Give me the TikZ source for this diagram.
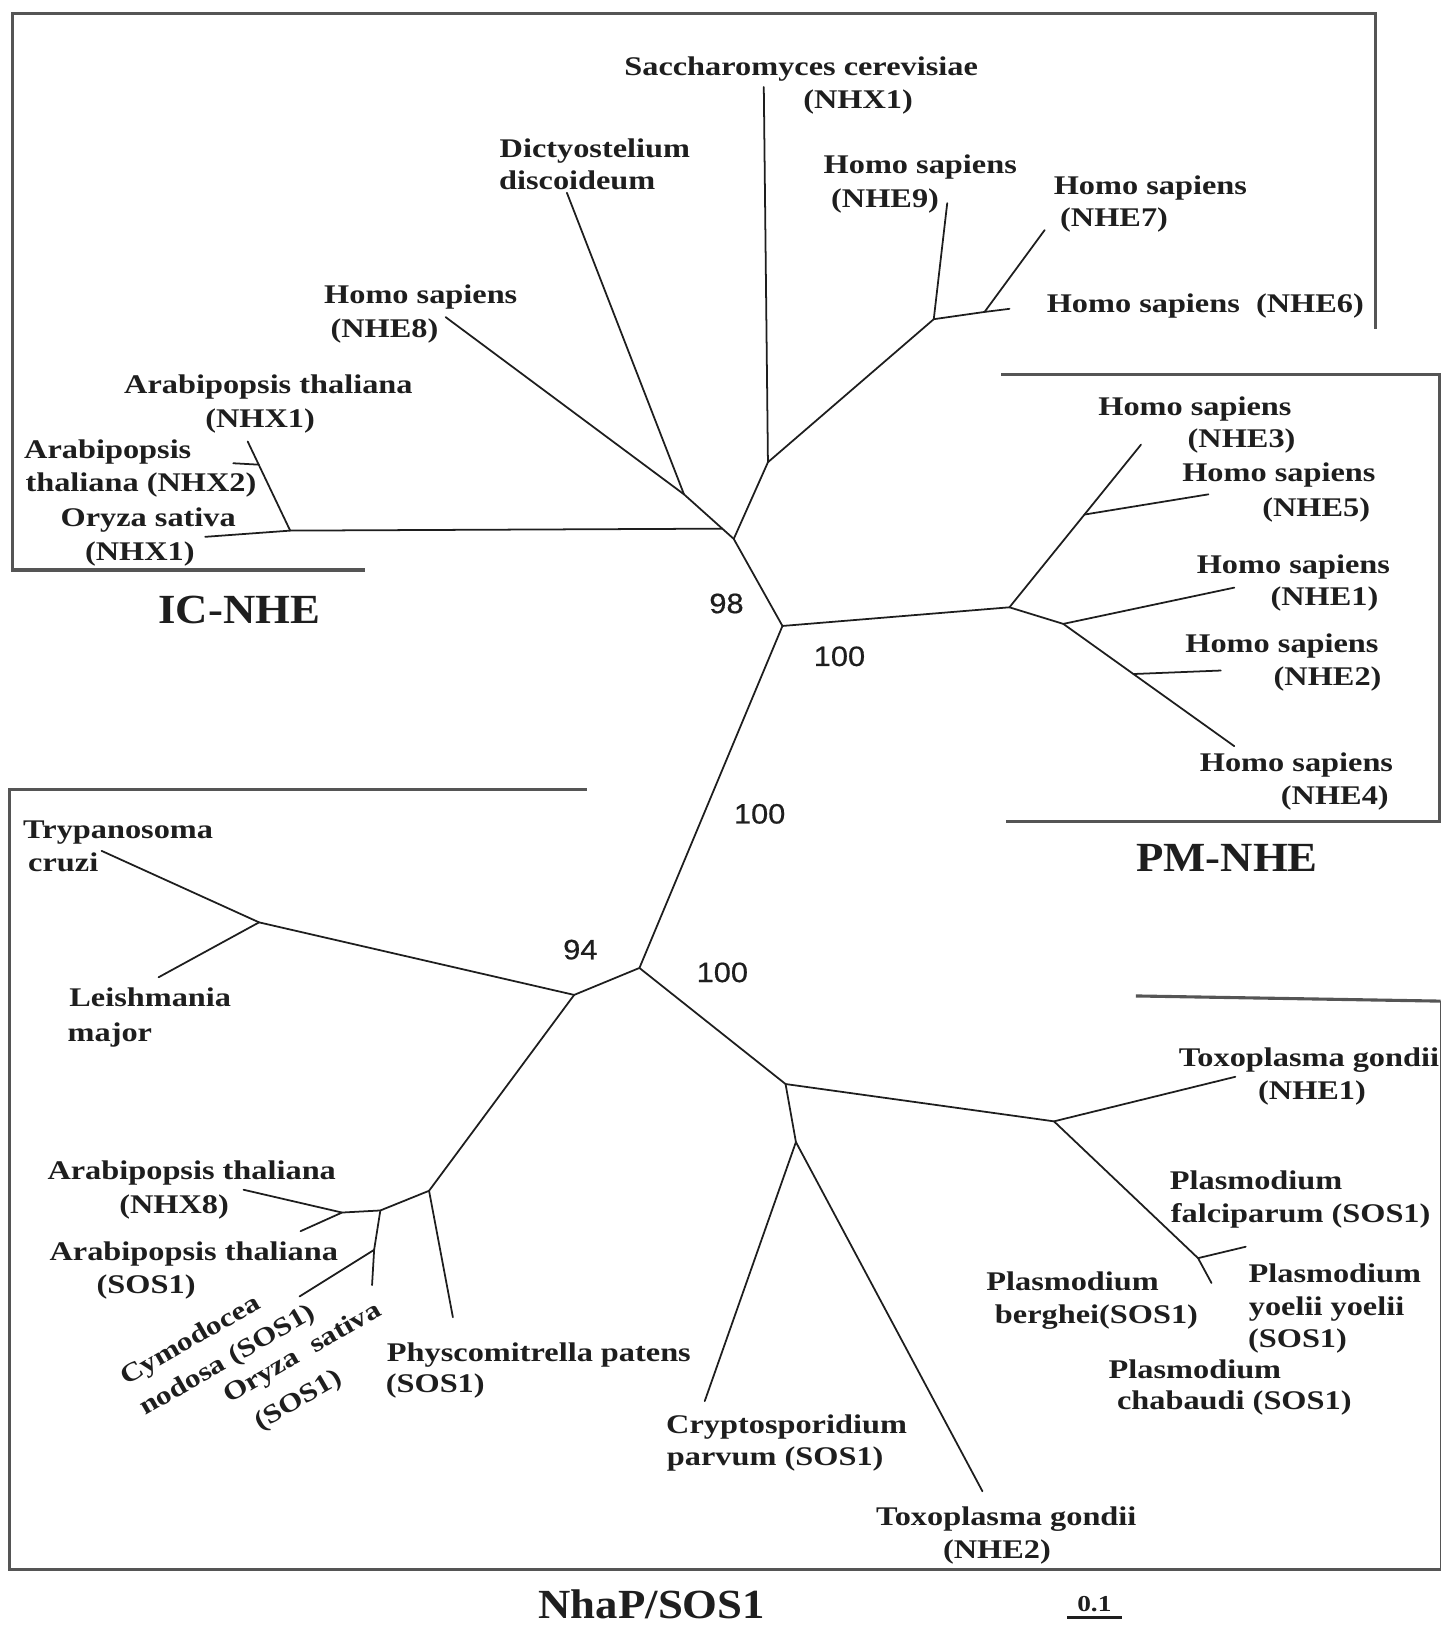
\documentclass[tikz,border=0pt]{standalone}
\usepackage{fontspec}
\usetikzlibrary{calc}
\newfontfamily\labfont{Liberation Serif}[FakeStretch=1.2]
\newfontfamily\titfont{Liberation Serif}[FakeStretch=1.08]
\newfontfamily\numfont{Liberation Sans}[FakeStretch=1.1, FakeBold=0.6]
\definecolor{ink}{HTML}{1E1E1E}
\definecolor{framecol}{HTML}{555555}
\begin{document}
\begin{tikzpicture}[x=0.5pt,y=-0.5pt,
  lab/.style={font=\labfont\bfseries\fontsize{13}{15}\selectfont, text=ink, inner sep=0pt, text height=8.5pt, text depth=0pt},
  rlab/.style={lab, font=\labfont\bfseries\fontsize{12.6}{15}\selectfont, rotate=30},
  scl/.style={font=\labfont\bfseries\fontsize{11}{12}\selectfont, text=ink, inner sep=0pt, text height=7.3pt, text depth=0pt},
  num/.style={font=\numfont\fontsize{13.5}{15}\selectfont, text=ink, inner sep=0pt, text height=9.6pt, text depth=0pt},
  tit/.style={font=\titfont\bfseries\fontsize{20}{22}\selectfont, text=ink, inner sep=0pt, text height=13.1pt, text depth=0pt},
  br/.style={draw=ink, line width=0.85pt, line cap=round, line join=round},
  frm/.style={draw=framecol, line width=1.5pt},
]
\useasboundingbox (0,0) rectangle (1391,1568);

% ---------- frames ----------
\draw[frm] (352,550) -- (12,550) -- (12,13) -- (1327,13) -- (1327,317);
\draw[frm] (966,361) -- (1389,361) -- (1389,793) -- (971,793);
\draw[frm] (566,762) -- (9,762) -- (9,1514) -- (1390,1514);
\draw[draw=framecol, line width=0.8pt] (1390,1514) -- (1390,966);
\draw[frm] (1390,966) -- (1096,961);

% ---------- tree coordinates ----------
\coordinate (N98) at (755,604);
\coordinate (J1) at (708,520);
\coordinate (JS) at (741,446);
\coordinate (tSac) at (737,84);
\coordinate (J69) at (901,308);
\coordinate (tN9) at (914,196);
\coordinate (J67) at (950,301);
\coordinate (tN6) at (974,298);
\coordinate (tN7) at (1008,222);
\coordinate (J8D) at (660,477);
\coordinate (tN8) at (430,306);
\coordinate (tDic) at (547,186);
\coordinate (JH) at ($(J8D)!0.77!(J1)$);
\coordinate (JA) at (280,512);
\coordinate (tAX1) at (239,426);
\coordinate (JX2) at ($(tAX1)!0.26!(JA)$);
\coordinate (tAX2) at (225,447);
\coordinate (tOX1) at (198,518);

\coordinate (JPM) at (974,586);
\coordinate (tN3) at (1101,429);
\coordinate (JN5) at ($(JPM)!0.57!(tN3)$);
\coordinate (tN5) at (1166,477);
\coordinate (JN1) at (1026,602);
\coordinate (tN1) at (1191,567);
\coordinate (tN4) at (1191,720);
\coordinate (JN2) at ($(JN1)!0.41!(tN4)$);
\coordinate (tN2) at (1178,647);

\coordinate (NL) at (617,934);
\coordinate (NT) at (554,960);
\coordinate (JTL) at (250,890);
\coordinate (tTry) at (98,821);
\coordinate (tLei) at (153,943);
\coordinate (JP) at (414,1149);
\coordinate (tPhy) at (437,1271);
\coordinate (JP2) at (367,1168);
\coordinate (JAr) at (330,1170);
\coordinate (tNX8) at (235,1148);
\coordinate (tAS1) at (290,1188);
\coordinate (JCO) at (361,1206);
\coordinate (tOS1) at (359,1240);
\coordinate (tCym) at (289,1251);
\coordinate (NA) at (758,1046);
\coordinate (JTox) at (1017,1082);
\coordinate (tTx1) at (1192,1039);
\coordinate (JPl) at (1156,1214);
\coordinate (tPf) at (1202,1203);
\coordinate (tPe) at (1169,1238);
\coordinate (JC) at (768,1102);
\coordinate (tCry) at (680,1352);
\coordinate (tTx2) at (948,1439);

% ---------- branches ----------
\draw[br] (N98) -- (J1) -- (J8D) -- (tN8);
\draw[br] (J8D) -- (tDic);
\draw[br] (J1) -- (JS) -- (tSac);
\draw[br] (JS) -- (J69) -- (tN9);
\draw[br] (J69) -- (J67) -- (tN6);
\draw[br] (J67) -- (tN7);
\draw[br] (JH) -- (JA) -- (tAX1);
\draw[br] (JA) -- (tOX1);
\draw[br] (JX2) -- (tAX2);

\draw[br] (N98) -- (JPM) -- (tN3);
\draw[br] (JN5) -- (tN5);
\draw[br] (JPM) -- (JN1) -- (tN4);
\draw[br] (JN1) -- (tN1);
\draw[br] (JN2) -- (tN2);

\draw[br] (N98) -- (NL) -- (NT) -- (JTL) -- (tTry);
\draw[br] (JTL) -- (tLei);
\draw[br] (NT) -- (JP) -- (tPhy);
\draw[br] (JP) -- (JP2) -- (JAr) -- (tNX8);
\draw[br] (JAr) -- (tAS1);
\draw[br] (JP2) -- (JCO) -- (tOS1);
\draw[br] (JCO) -- (tCym);
\draw[br] (NL) -- (NA) -- (JTox) -- (tTx1);
\draw[br] (JTox) -- (JPl) -- (tPe);
\draw[br] (JPl) -- (tPf);
\draw[br] (NA) -- (JC) -- (tCry);
\draw[br] (JC) -- (tTx2);

% ---------- bootstrap values ----------
\node[num] (b98) at (701,582) {98};
\node[num] (b100a) at (810,633) {100};
\node[num] (b100b) at (733,785) {100};
\node[num] (b94) at (560,916) {94};
\node[num] (b100c) at (697,938) {100};

% ---------- IC-NHE labels ----------
\node[lab] (lSac1) at (773,64) {Saccharomyces cerevisiae};
\node[lab] (lSac2) at (828,96) {(NHX1)};
\node[lab] (lDic1) at (574,143) {Dictyostelium};
\node[lab] (lDic2) at (557,174) {discoideum};
\node[lab] (lN9a) at (888,159) {Homo sapiens};
\node[lab] (lN9b) at (854,192) {(NHE9)};
\node[lab] (lN7a) at (1110,179) {Homo sapiens};
\node[lab] (lN7b) at (1075,210) {(NHE7)};
\node[lab] (lN6) at (1163,293) {Homo sapiens\ \ (NHE6)};
\node[lab] (lN8a) at (406,284) {Homo sapiens};
\node[lab] (lN8b) at (371,317) {(NHE8)};
\node[lab] (lAX1a) at (259,371) {Arabipopsis thaliana};
\node[lab] (lAX1b) at (251,404) {(NHX1)};
\node[lab] (lAX2a) at (104,434) {Arabipopsis};
\node[lab] (lAX2b) at (136,466) {thaliana (NHX2)};
\node[lab] (lOX1a) at (143,500) {Oryza sativa};
\node[lab] (lOX1b) at (135,532) {(NHX1)};
\node[tit] (tIC) at (231,589) {IC-NHE};

% ---------- PM-NHE labels ----------
\node[lab] (lN3a) at (1153,392) {Homo sapiens};
\node[lab] (lN3b) at (1198,423) {(NHE3)};
\node[lab] (lN5a) at (1234,456) {Homo sapiens};
\node[lab] (lN5b) at (1270,490) {(NHE5)};
\node[lab] (lN1a) at (1248,545) {Homo sapiens};
\node[lab] (lN1b) at (1278,576) {(NHE1)};
\node[lab] (lN2a) at (1237,621) {Homo sapiens};
\node[lab] (lN2b) at (1281,653) {(NHE2)};
\node[lab] (lN4a) at (1251,736) {Homo sapiens};
\node[lab] (lN4b) at (1288,768) {(NHE4)};
\node[tit] (tPM) at (1184,828) {PM-NHE};

% ---------- NhaP/SOS1 labels ----------
\node[lab] (lTry1) at (114,801) {Trypanosoma};
\node[lab] (lTry2) at (61,832) {cruzi};
\node[lab] (lLei1) at (145,963) {Leishmania};
\node[lab] (lLei2) at (106,996) {major};
\node[lab] (lNX8a) at (185,1130) {Arabipopsis thaliana};
\node[lab] (lNX8b) at (168,1162) {(NHX8)};
\node[lab] (lAS1a) at (187,1208) {Arabipopsis thaliana};
\node[lab] (lAS1b) at (141,1240) {(SOS1)};
\node[rlab] (lCym1) at (183,1292) {Cymodocea};
\node[rlab] (lCym2) at (219,1311) {nodosa (SOS1)};
\node[rlab] (lOS1a) at (291,1304) {Oryza\ \ sativa};
\node[rlab] (lOS1b) at (287,1350) {(SOS1)};
\node[lab] (lPhy1) at (520,1305) {Physcomitrella patens};
\node[lab] (lPhy2) at (420,1335) {(SOS1)};
\node[lab] (lCry1) at (759,1375) {Cryptosporidium};
\node[lab] (lCry2) at (748,1406) {parvum (SOS1)};
\node[lab] (lTx2a) at (971,1463) {Toxoplasma gondii};
\node[lab] (lTx2b) at (962,1495) {(NHE2)};
\node[lab] (lTx1a) at (1263,1021) {Toxoplasma gondii};
\node[lab] (lTx1b) at (1266,1052) {(NHE1)};
\node[lab] (lPfa) at (1212,1139) {Plasmodium};
\node[lab] (lPfb) at (1255,1171) {falciparum (SOS1)};
\node[lab] (lPya) at (1288,1229) {Plasmodium};
\node[lab] (lPyb) at (1280,1261) {yoelii yoelii};
\node[lab] (lPyc) at (1252,1292) {(SOS1)};
\node[lab] (lPba) at (1035,1237) {Plasmodium};
\node[lab] (lPbb) at (1058,1269) {berghei(SOS1)};
\node[lab] (lPca) at (1153,1322) {Plasmodium};
\node[lab] (lPcb) at (1191,1352) {chabaudi (SOS1)};
\node[tit] (tNS) at (629,1549) {NhaP/SOS1};

% ---------- scale bar ----------
\node[scl] (sc) at (1056,1548) {0.1};
\coordinate (sbL) at (1030,1561);
\coordinate (sbR) at (1083,1561);
\draw[draw=ink, line width=1.6pt] (sbL) -- (sbR);
\end{tikzpicture}
\end{document}
